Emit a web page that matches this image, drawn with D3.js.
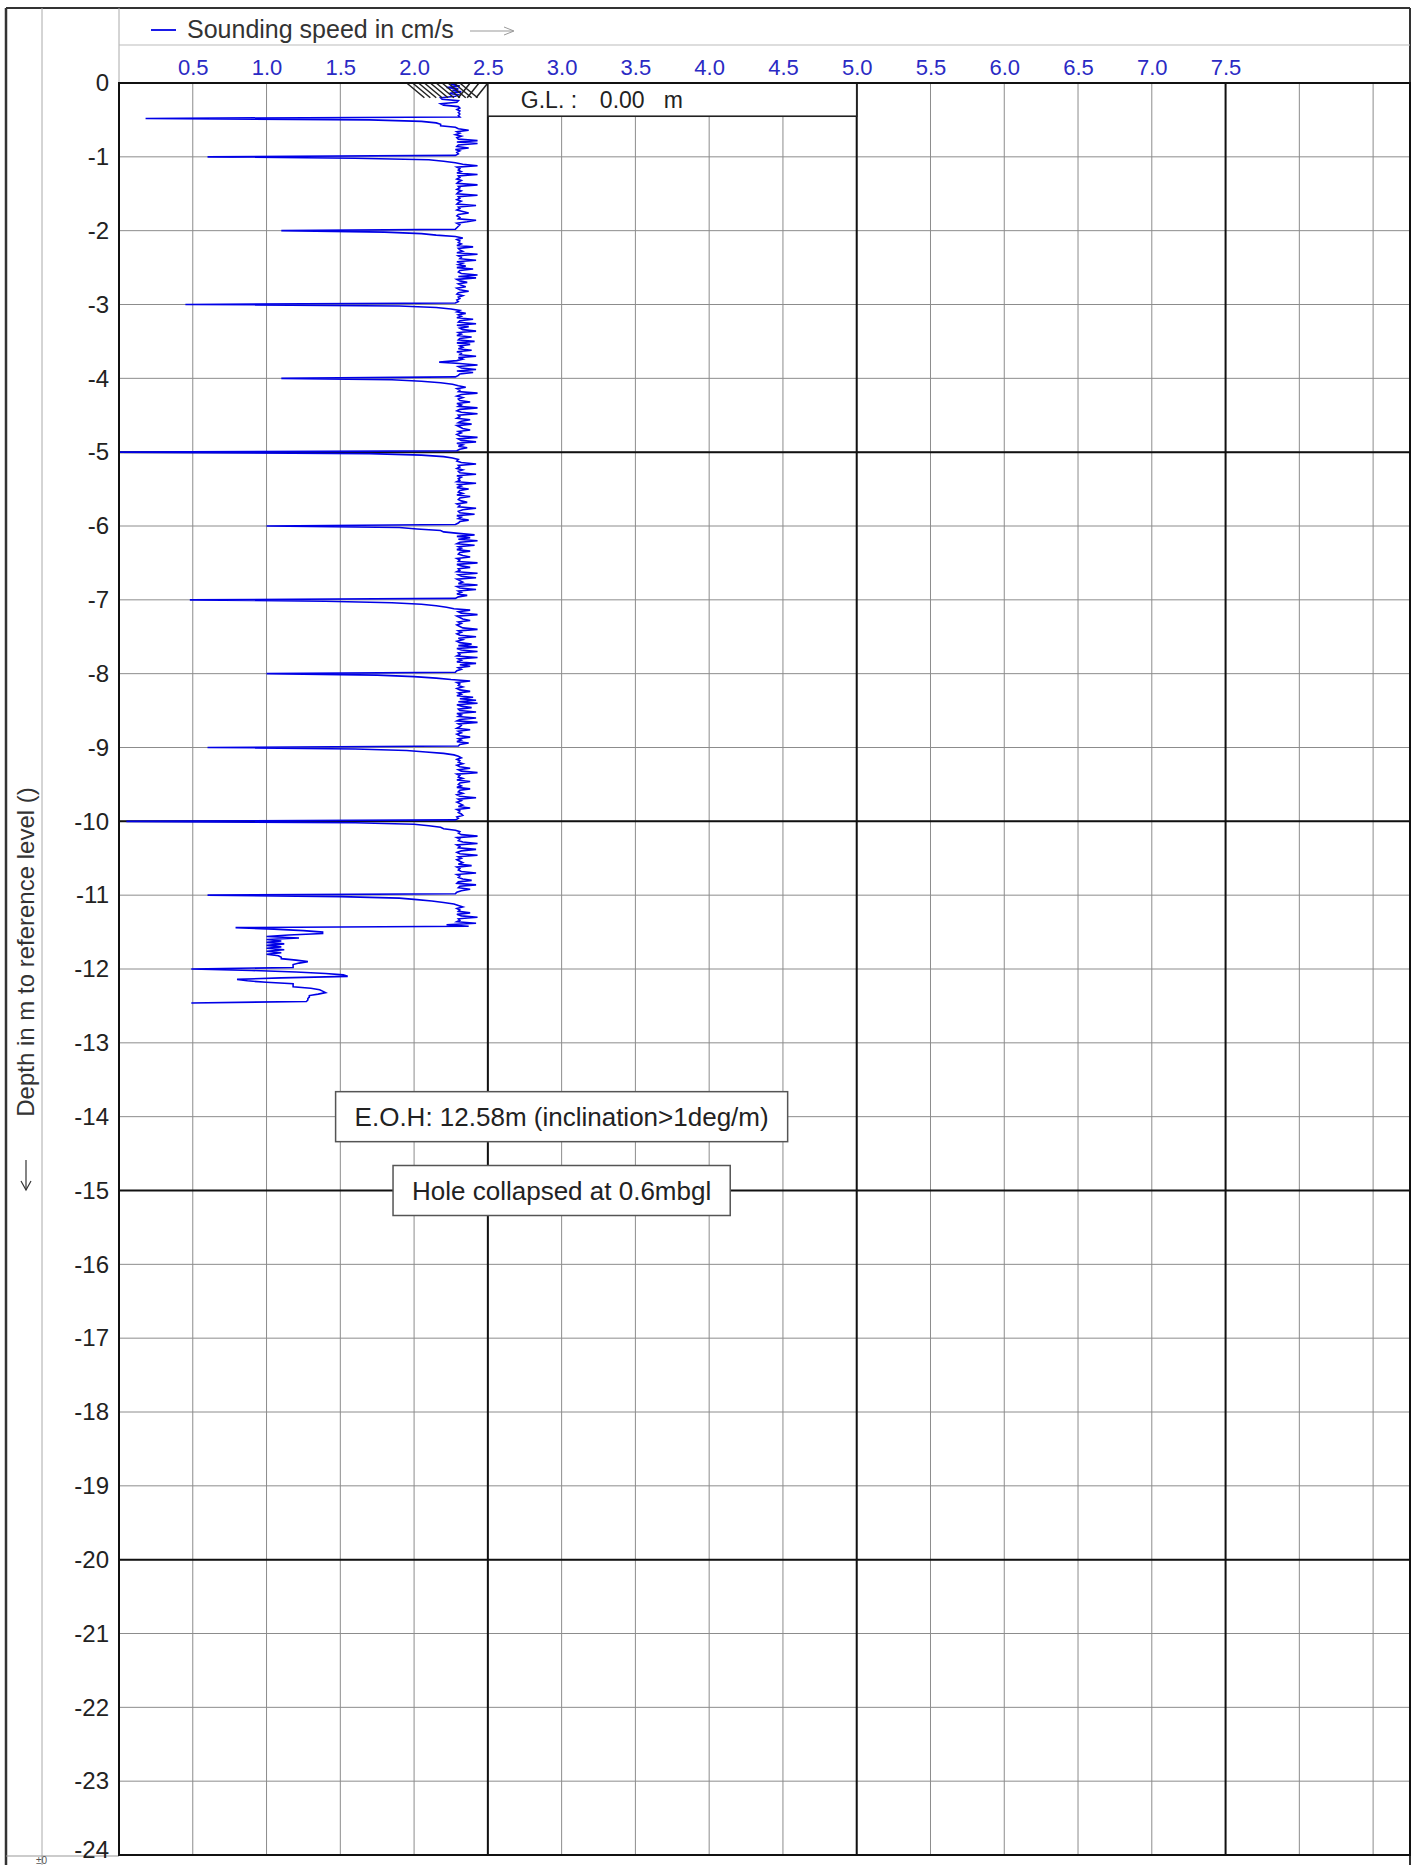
<!DOCTYPE html>
<html><head><meta charset="utf-8">
<script src="https://cdn.jsdelivr.net/npm/d3@7"></script>
<style>
body{margin:0;background:#fff;}
svg{display:block;font-family:"Liberation Sans",Arial,Helvetica,sans-serif;}
</style>
</head><body>
<svg id="c" width="1415" height="1865"></svg>
<script>
// ---------------- DATA ----------------
const xTickValues = [0.5,1.0,1.5,2.0,2.5,3.0,3.5,4.0,4.5,5.0,5.5,6.0,6.5,7.0,7.5];
const xGridValues = [0.5,1.0,1.5,2.0,2.5,3.0,3.5,4.0,4.5,5.0,5.5,6.0,6.5,7.0,7.5,8.0,8.5];
const xMajorValues = [2.5,5.0,7.5];
const yTickValues = [0,-1,-2,-3,-4,-5,-6,-7,-8,-9,-10,-11,-12,-13,-14,-15,-16,-17,-18,-19,-20,-21,-22,-23,-24];
const yMajorValues = [-5,-10,-15,-20];
const xDomain = [0, 8.75];
const yDomain = [0, -24];
const depthStep = 0.02; // one reading every 2 cm

// sounding speed (cm/s), one reading per 2 cm, grouped per metre
const m00 = [2.30,2.25,2.31,2.22,2.30,2.26,2.32,2.24,2.30,2.28,2.18,2.19,2.30,2.29,2.18,2.20,2.30,2.31,2.29,2.31,2.30,2.31,2.30,2.31,0.18,1.70,2.05,2.15,2.18,2.18,2.28,2.30,2.37,2.29,2.31,2.28,2.32,2.29,2.30,2.43,2.29,2.43,2.30,2.29,2.37,2.28,2.31,2.29,2.30,2.28];
const m01 = [0.60,1.60,2.10,2.20,2.28,2.33,2.43,2.29,2.31,2.30,2.32,2.29,2.43,2.30,2.31,2.29,2.32,2.30,2.29,2.43,2.30,2.31,2.29,2.32,2.30,2.29,2.43,2.30,2.31,2.29,2.32,2.30,2.29,2.42,2.30,2.31,2.29,2.33,2.37,2.30,2.29,2.31,2.30,2.42,2.36,2.29,2.31,2.30,2.29,2.28];
const m02 = [1.10,1.80,2.05,2.15,2.28,2.33,2.29,2.31,2.30,2.32,2.29,2.40,2.30,2.31,2.33,2.29,2.43,2.30,2.32,2.31,2.42,2.29,2.33,2.30,2.35,2.29,2.40,2.31,2.30,2.32,2.43,2.30,2.42,2.29,2.31,2.36,2.30,2.32,2.35,2.29,2.31,2.37,2.30,2.29,2.33,2.30,2.31,2.29,2.30,2.28];
const m03 = [0.45,1.90,2.15,2.25,2.31,2.29,2.35,2.30,2.32,2.29,2.40,2.31,2.30,2.42,2.29,2.37,2.31,2.33,2.42,2.30,2.32,2.29,2.39,2.31,2.30,2.41,2.29,2.38,2.31,2.33,2.30,2.39,2.29,2.32,2.31,2.42,2.30,2.33,2.29,2.17,2.31,2.43,2.30,2.32,2.42,2.29,2.40,2.31,2.30,2.28];
const m04 = [1.10,1.85,2.05,2.18,2.26,2.30,2.35,2.29,2.31,2.30,2.43,2.32,2.29,2.33,2.30,2.31,2.38,2.29,2.32,2.30,2.43,2.31,2.29,2.32,2.43,2.30,2.31,2.29,2.38,2.32,2.30,2.39,2.29,2.31,2.33,2.38,2.30,2.32,2.29,2.31,2.43,2.30,2.32,2.42,2.29,2.33,2.30,2.36,2.31,2.29];
const m05 = [0.00,1.70,2.05,2.20,2.26,2.30,2.29,2.32,2.42,2.30,2.31,2.29,2.33,2.30,2.31,2.42,2.29,2.32,2.30,2.31,2.29,2.42,2.30,2.32,2.29,2.37,2.31,2.30,2.33,2.29,2.38,2.31,2.30,2.32,2.36,2.29,2.31,2.30,2.42,2.33,2.30,2.31,2.41,2.29,2.32,2.30,2.37,2.31,2.30,2.28];
const m06 = [1.00,1.90,2.02,2.18,2.20,2.30,2.41,2.29,2.38,2.30,2.43,2.31,2.29,2.41,2.30,2.32,2.29,2.38,2.31,2.30,2.33,2.38,2.29,2.31,2.30,2.43,2.29,2.32,2.38,2.30,2.31,2.29,2.43,2.30,2.32,2.42,2.29,2.31,2.33,2.30,2.43,2.29,2.31,2.42,2.30,2.32,2.29,2.36,2.30,2.28];
const m07 = [0.48,1.40,1.85,2.05,2.15,2.22,2.27,2.38,2.30,2.32,2.43,2.29,2.31,2.33,2.38,2.30,2.32,2.29,2.31,2.33,2.43,2.30,2.32,2.29,2.31,2.42,2.30,2.33,2.29,2.31,2.39,2.30,2.43,2.29,2.32,2.43,2.30,2.31,2.29,2.43,2.30,2.32,2.29,2.42,2.31,2.38,2.30,2.32,2.29,2.28];
const m08 = [1.00,1.75,2.00,2.15,2.25,2.38,2.29,2.31,2.30,2.33,2.29,2.31,2.38,2.30,2.32,2.29,2.40,2.31,2.42,2.30,2.43,2.29,2.32,2.39,2.30,2.31,2.42,2.29,2.32,2.30,2.42,2.31,2.29,2.43,2.30,2.32,2.31,2.29,2.38,2.30,2.32,2.29,2.31,2.38,2.30,2.32,2.29,2.37,2.31,2.30];
const m09 = [0.60,1.60,1.95,2.08,2.20,2.27,2.30,2.32,2.29,2.31,2.30,2.33,2.29,2.31,2.38,2.30,2.32,2.43,2.29,2.31,2.30,2.33,2.29,2.38,2.31,2.30,2.32,2.29,2.38,2.31,2.30,2.33,2.29,2.31,2.42,2.30,2.32,2.29,2.31,2.33,2.30,2.38,2.29,2.31,2.30,2.32,2.33,2.29,2.30,2.28];
const m10 = [0.05,1.60,2.00,2.10,2.18,2.20,2.28,2.31,2.30,2.32,2.43,2.29,2.31,2.30,2.33,2.43,2.29,2.31,2.30,2.42,2.32,2.29,2.31,2.43,2.30,2.32,2.29,2.31,2.33,2.30,2.39,2.29,2.31,2.30,2.32,2.42,2.29,2.31,2.30,2.33,2.39,2.30,2.29,2.42,2.31,2.30,2.38,2.32,2.29,2.28];
const m11 = [0.60,1.50,1.90,2.02,2.12,2.20,2.27,2.30,2.33,2.29,2.31,2.30,2.38,2.29,2.32,2.43,2.30,2.31,2.29,2.42,2.22,2.37,0.79,1.05,1.25,1.38,1.38,1.15,1.00,1.22,1.00,1.10,1.00,1.12,1.00,1.10,1.00,1.12,1.00,1.10,1.00,1.08,1.10,1.10,1.20,1.28,1.22,1.18,1.18,1.18];
const m12 = [0.49,0.90,1.20,1.40,1.52,1.55,1.10,0.80,0.87,1.00,1.18,1.18,1.18,1.30,1.36,1.38,1.40,1.35,1.29,1.29,1.28,1.28,1.27,0.49];

// hatch marks at the top of the hole (start speed of each stroke)
const hatchBack = [1.95,1.99,2.03,2.07,2.11,2.15,2.19,2.23,2.27,2.31];
const hatchFwd = [2.30,2.36,2.42];

const legendLabel = "Sounding speed in cm/s";
const yAxisTitle = "Depth in m to reference level ()";
const glParts = ["G.L. :", "0.00", "m"];
const notes = [
  {text: "E.O.H: 12.58m (inclination>1deg/m)", x: 3.0, y: -14},
  {text: "Hole collapsed at 0.6mbgl", x: 3.0, y: -15}
];
const footLabel = "±0";

// ---------------- CHART ----------------
const speeds = [].concat(m00,m01,m02,m03,m04,m05,m06,m07,m08,m09,m10,m11,m12);
const series = speeds.map((v,i) => ({depth: -(i*depthStep), v}));

const svg = d3.select("#c");
const P = {left:119, right:1410, top:83, bottom:1855};
const frame = {left:6, top:8, right:1410, inner:42, legendLine:45};

const x = d3.scaleLinear().domain(xDomain).range([P.left, P.right]);
const y = d3.scaleLinear().domain(yDomain).range([P.top, P.bottom]);

// outer frame
svg.append("line").attr("x1",frame.left).attr("x2",frame.right).attr("y1",frame.top).attr("y2",frame.top)
  .attr("stroke","#333").attr("stroke-width",2);
svg.append("line").attr("x1",frame.left).attr("x2",frame.left).attr("y1",frame.top).attr("y2",1865)
  .attr("stroke","#333").attr("stroke-width",2.5);
svg.append("line").attr("x1",frame.right).attr("x2",frame.right).attr("y1",frame.top).attr("y2",1865)
  .attr("stroke","#333").attr("stroke-width",2);
svg.append("line").attr("x1",frame.inner).attr("x2",frame.inner).attr("y1",frame.top).attr("y2",1865)
  .attr("stroke","#aaa").attr("stroke-width",1);
svg.append("line").attr("x1",P.left).attr("x2",P.left).attr("y1",frame.top).attr("y2",P.top)
  .attr("stroke","#aaa").attr("stroke-width",1);
svg.append("line").attr("x1",P.left).attr("x2",frame.right).attr("y1",frame.legendLine).attr("y2",frame.legendLine)
  .attr("stroke","#bbb").attr("stroke-width",1);
svg.append("line").attr("x1",frame.left).attr("x2",P.left).attr("y1",P.bottom+1).attr("y2",P.bottom+1)
  .attr("stroke","#999").attr("stroke-width",1);

// minor grid
const grid = svg.append("g");
grid.selectAll("line.vx").data(xGridValues).join("line")
  .attr("x1",d=>x(d)).attr("x2",d=>x(d)).attr("y1",P.top).attr("y2",P.bottom)
  .attr("stroke","#8c8c8c").attr("stroke-width",1);
grid.selectAll("line.hy").data(yTickValues).join("line")
  .attr("x1",P.left).attr("x2",P.right).attr("y1",d=>y(d)).attr("y2",d=>y(d))
  .attr("stroke","#8c8c8c").attr("stroke-width",1);
// major grid
const major = svg.append("g");
major.selectAll("line.mx").data(xMajorValues).join("line")
  .attr("x1",d=>x(d)).attr("x2",d=>x(d)).attr("y1",P.top).attr("y2",P.bottom)
  .attr("stroke","#111").attr("stroke-width",2);
major.selectAll("line.my").data(yMajorValues).join("line")
  .attr("x1",P.left).attr("x2",P.right).attr("y1",d=>y(d)).attr("y2",d=>y(d))
  .attr("stroke","#111").attr("stroke-width",2);

// data line
const line = d3.line().x(d=>x(d.v)).y(d=>y(d.depth));
svg.append("path").datum(series).attr("d",line)
  .attr("fill","none").attr("stroke","#0000e6").attr("stroke-width",1.6).attr("stroke-linejoin","miter");

// hatch at top
const hatch = svg.append("g").attr("stroke","#222").attr("stroke-width",1.5);
hatch.selectAll("line.hb").data(hatchBack).join("line")
  .attr("x1",d=>x(d)).attr("y1",y(0)).attr("x2",d=>x(d+0.12)).attr("y2",y(-0.2));
hatch.selectAll("line.hf").data(hatchFwd).join("line")
  .attr("x1",d=>x(d)).attr("y1",y(-0.2)).attr("x2",d=>x(d+0.08)).attr("y2",y(0));

// G.L. box
svg.append("rect").attr("x",x(2.5)).attr("y",y(0)).attr("width",x(5.0)-x(2.5)).attr("height",y(-0.45)-y(0))
  .attr("fill","#fff").attr("stroke","#222").attr("stroke-width",1.6);
const glX = [x(2.5)+33, x(2.5)+112, x(2.5)+176];
svg.selectAll("text.gl").data(glParts).join("text").attr("class","gl")
  .attr("x",(d,i)=>glX[i]).attr("y",y(0)+25)
  .attr("font-size",23).attr("fill","#222").text(d=>d);

// plot border
svg.append("rect").attr("x",P.left).attr("y",P.top).attr("width",P.right-P.left).attr("height",P.bottom-P.top)
  .attr("fill","none").attr("stroke","#111").attr("stroke-width",2);

// x tick labels (top)
const xAxis = d3.axisTop(x).tickValues(xTickValues).tickFormat(d3.format(".1f")).tickSize(0).tickPadding(0);
const gx = svg.append("g").attr("transform",`translate(0,${P.top-8})`).call(xAxis);
gx.select(".domain").remove();
gx.selectAll("text").attr("font-size",22).attr("fill","#2a2ac4").attr("font-family","Liberation Sans, Arial, sans-serif").attr("dy",0);

// y tick labels
const yAxis = d3.axisLeft(y).tickValues(yTickValues).tickFormat(d=>String(d)).tickSize(0).tickPadding(0);
const gy = svg.append("g").attr("transform",`translate(${P.left-10},0)`).call(yAxis);
gy.select(".domain").remove();
gy.selectAll("text").attr("font-size",24).attr("fill","#222").attr("font-family","Liberation Sans, Arial, sans-serif");
gy.selectAll(".tick").filter(d=>d===-24).select("text").attr("dy","0.1em");

// legend
svg.append("line").attr("x1",151).attr("x2",176).attr("y1",30).attr("y2",30).attr("stroke","#0000e6").attr("stroke-width",1.8);
svg.append("text").attr("x",187).attr("y",38).attr("font-size",25).attr("fill","#333").text(legendLabel);
svg.append("line").attr("x1",470).attr("x2",513).attr("y1",31).attr("y2",31).attr("stroke","#999").attr("stroke-width",1);
svg.append("path").attr("d","M504,27 L514,31 L504,35").attr("fill","none").attr("stroke","#999").attr("stroke-width",1);

// y axis title
svg.append("text").attr("transform","translate(34,952) rotate(-90)").attr("text-anchor","middle")
  .attr("font-size",24).attr("fill","#333").text(yAxisTitle);
svg.append("line").attr("x1",26).attr("x2",26).attr("y1",1160).attr("y2",1190).attr("stroke","#333").attr("stroke-width",1.2);
svg.append("path").attr("d","M21,1181 L26,1190 L31,1181").attr("fill","none").attr("stroke","#333").attr("stroke-width",1.2);

// annotation boxes
const ng = svg.selectAll("g.note").data(notes).join("g").attr("class","note");
ng.each(function(d){
  const g = d3.select(this);
  const rect = g.append("rect");
  const t = g.append("text").attr("x",x(d.x)).attr("y",y(d.y)+9).attr("text-anchor","middle")
    .attr("font-size",26).attr("fill","#222").text(d.text);
  const w = t.node().getComputedTextLength() + 38;
  rect.attr("x",x(d.x)-w/2).attr("y",y(d.y)-25).attr("width",w).attr("height",50)
    .attr("fill","#fff").attr("stroke","#555").attr("stroke-width",1.5);
});

// small reference text at the very bottom-left
svg.append("text").attr("x",36).attr("y",1864).attr("font-size",10).attr("fill","#555").text(footLabel);
</script>
</body></html>
